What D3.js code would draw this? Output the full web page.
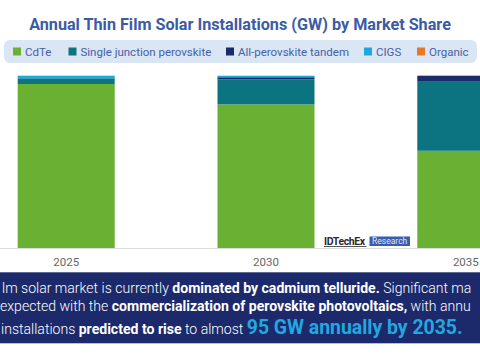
<!DOCTYPE html>
<html>
<head>
<meta charset="utf-8">
<script src="https://cdn.jsdelivr.net/npm/d3@7/dist/d3.min.js"></script>
<style>
  html, body { margin: 0; padding: 0; background: #fff; }
  svg { display: block; font-family: Roboto, "Open Sans", sans-serif; }
</style>
</head>
<body>
<svg id="chart" width="480" height="360"></svg>
<script>
// ---- data (share of annual installations, %) ----
const years = ["2025", "2030", "2035"];
const seriesNames = ["CdTe", "Single junction perovskite", "All-perovskite tandem", "CIGS", "Organic"];
const cdte = [95.2, 83.4, 56.5];
const singleJunction = [3.3, 14.5, 40.4];
const allPerovskiteTandem = [0, 1.2, 3.1];
const cigs = [1.5, 0.9, 0];
const organic = [0, 0, 0];
const colors = ["#6ab033", "#0b7480", "#1b2a6b", "#1ea8e0", "#e8772e"];

const title = "Annual Thin Film Solar Installations (GW) by Market Share";
const caption = [
  [["lm solar market is currently ", false], ["dominated by cadmium telluride.", true], [" Significant ma", false]],
  [["expected with the ", false], ["commercialization of perovskite photovoltaics,", true], [" with annu", false]],
  [["installations ", false], ["predicted to rise", true], [" to almost ", false]]
];
const highlight = "95 GW annually by 2035.";

// ---- build table ----
const valuesBySeries = [cdte, singleJunction, allPerovskiteTandem, cigs, organic];
const table = years.map((y, i) => {
  const row = { year: y };
  seriesNames.forEach((s, k) => row[s] = valuesBySeries[k][i]);
  return row;
});
const stacked = d3.stack().keys(seriesNames)(table);

const svg = d3.select("#chart");
const W = 480;

// title
svg.append("text")
  .attr("x", 240).attr("y", 29.5)
  .attr("text-anchor", "middle")
  .attr("font-size", 16.2).attr("font-weight", 700)
  .attr("fill", "#3b5ba5")
  .text(title);

// legend
svg.append("rect")
  .attr("x", 4).attr("y", 40).attr("width", 473).attr("height", 23)
  .attr("rx", 6).attr("fill", "#dbe6f4");
const legendTextX = [25, 80.5, 238, 376, 429];
const legend = svg.append("g");
seriesNames.forEach((s, k) => {
  legend.append("rect")
    .attr("x", legendTextX[k] - 12).attr("y", 47.5).attr("width", 8).attr("height", 8)
    .attr("fill", colors[k]);
  legend.append("text")
    .attr("x", legendTextX[k]).attr("y", 55.5)
    .attr("font-size", 11.5).attr("fill", "#4461a8")
    .text(s);
});

// scales
const x = d3.scaleBand().domain(years).range([-82.2, 614.2]).paddingInner(0.5145).paddingOuter(0.5);
const y = d3.scaleLinear().domain([0, 100]).range([248.3, 75.7]);

// bars
const g = svg.append("g");
g.selectAll("g.series")
  .data(stacked)
  .join("g")
  .attr("class", "series")
  .attr("fill", (d, i) => colors[i])
  .selectAll("rect")
  .data(d => d)
  .join("rect")
  .attr("x", d => x(d.data.year))
  .attr("width", x.bandwidth())
  .attr("y", d => y(d[1]))
  .attr("height", d => Math.max(0, y(d[0]) - y(d[1])));

// x axis
const axis = svg.append("g")
  .attr("transform", "translate(0,248.5)")
  .call(d3.axisBottom(x).tickSize(0).tickPadding(9));
axis.select(".domain").remove();
svg.append("line")
  .attr("x1", 0).attr("x2", W).attr("y1", 248.5).attr("y2", 248.5)
  .attr("stroke", "#dcdcdc").attr("stroke-width", 1);
axis.selectAll("text")
  .attr("font-family", "Roboto, sans-serif")
  .attr("font-size", 11.5).attr("fill", "#666");

// IDTechEx logo
svg.append("text")
  .attr("x", 324).attr("y", 244.5)
  .attr("font-size", 10.5).attr("font-weight", 700).attr("fill", "#2b2b2b")
  .attr("letter-spacing", -0.4)
  .text("IDTechEx");
svg.append("line")
  .attr("x1", 324).attr("x2", 366.5).attr("y1", 246.5).attr("y2", 246.5)
  .attr("stroke", "#2b2b2b").attr("stroke-width", 0.8);
svg.append("rect")
  .attr("x", 369.5).attr("y", 236.5).attr("width", 40.5).attr("height", 9.5)
  .attr("fill", "#3a5cae");
svg.append("text")
  .attr("x", 389.7).attr("y", 244.3).attr("text-anchor", "middle")
  .attr("font-size", 8.5).attr("fill", "#dfe6f6")
  .text("Research");

// caption box
svg.append("rect")
  .attr("x", 0).attr("y", 272.3).attr("width", W).attr("height", 71)
  .attr("fill", "#1c2a6b");
const lineY = [293.3, 311, 334];
const lineX = [2, 0, 1];
caption.forEach((segs, i) => {
  const t = svg.append("text")
    .attr("x", lineX[i]).attr("y", lineY[i])
    .attr("font-size", 14.05).attr("fill", "#fff");
  segs.forEach(([str, bold]) => {
    t.append("tspan").attr("font-weight", bold ? 700 : 300).text(str);
  });
  if (i === 2) {
    t.append("tspan").attr("font-weight", 700).attr("font-size", 19.4)
      .attr("fill", "#22a7e0").text(highlight);
  }
});
</script>
</body>
</html>
